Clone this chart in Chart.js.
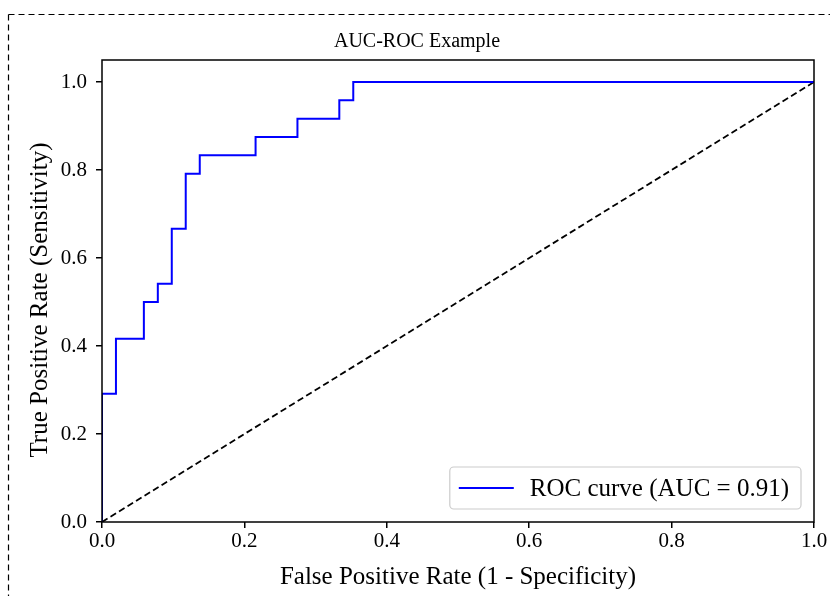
<!DOCTYPE html>
<html>
<head>
<meta charset="utf-8">
<script src="https://cdn.jsdelivr.net/npm/chart.js@4.4.0/dist/chart.umd.min.js"></script>
<style>
  html, body { margin: 0; padding: 0; background: #fff; overflow: hidden; }
  #wrap { position: relative; width: 830px; height: 596px; }
  #frame { position: absolute; left: 0; top: 0; pointer-events: none; }
</style>
</head>
<body>
<div id="wrap">
  <canvas id="c" width="830" height="596"></canvas>
  <svg id="frame" width="830" height="596">
    <line x1="8.5" y1="14.5" x2="830" y2="14.5" stroke="#000" stroke-width="1.2" stroke-dasharray="6,4"/>
    <line x1="8.5" y1="14.5" x2="8.5" y2="596" stroke="#000" stroke-width="1.2" stroke-dasharray="6,4"/>
  </svg>
</div>
<script>
// ---- data ----
const titleText = 'AUC-ROC Example';
const xLabel = 'False Positive Rate (1 - Specificity)';
const yLabel = 'True Positive Rate (Sensitivity)';
const rocLabel = 'ROC curve (AUC = 0.91)';
// ROC curve corner points (false positive rate, true positive rate)
const fpr = [0, 0, 0.0196, 0.0196, 0.0588, 0.0588, 0.0784, 0.0784, 0.098, 0.098, 0.1176, 0.1176, 0.1373, 0.1373, 0.2157, 0.2157, 0.2745, 0.2745, 0.3333, 0.3333, 0.3529, 0.3529, 1.0];
const tpr = [0, 0.2917, 0.2917, 0.4167, 0.4167, 0.5, 0.5, 0.5417, 0.5417, 0.6667, 0.6667, 0.7917, 0.7917, 0.8333, 0.8333, 0.875, 0.875, 0.9167, 0.9167, 0.9583, 0.9583, 1.0, 1.0];
// chance diagonal
const diagX = [0, 1];
const diagY = [0, 1];
const xTicks = [0.0, 0.2, 0.4, 0.6, 0.8, 1.0];
const yTicks = [0.0, 0.2, 0.4, 0.6, 0.8, 1.0];

const FONT = "'Liberation Serif', 'Times New Roman', serif";

const rocPoints = fpr.map((x, i) => ({ x: x, y: tpr[i] }));
const diagPoints = diagX.map((x, i) => ({ x: x, y: diagY[i] }));

const frameBox = {
  id: 'frameBox',
  afterDatasetsDraw(chart) {
    const { ctx, chartArea: a } = chart;
    ctx.save();
    ctx.strokeStyle = '#000';
    ctx.lineWidth = 1.5;
    ctx.strokeRect(a.left, a.top, a.right - a.left, a.bottom - a.top);
    ctx.restore();
  }
};

// y-axis title (drawn slightly below the axis centre, as in the reference)
const yTitle = {
  id: 'yTitle',
  afterDraw(chart) {
    const { ctx, chartArea: a } = chart;
    ctx.save();
    ctx.font = '25px ' + FONT;
    ctx.fillStyle = '#000';
    ctx.textAlign = 'center';
    ctx.textBaseline = 'middle';
    ctx.translate(40, (a.top + a.bottom) / 2 + 9);
    ctx.rotate(-Math.PI / 2);
    ctx.fillText(yLabel, 0, 0);
    ctx.restore();
  }
};

const innerLegend = {
  id: 'innerLegend',
  afterDraw(chart) {
    const { ctx, chartArea: a } = chart;
    const ds = chart.data.datasets[0];
    ctx.save();
    ctx.font = '25px ' + FONT;
    const tw = ctx.measureText(ds.label).width;
    const w = 9 + 55 + 16 + tw + 12;
    const h = 42;
    const x = a.right - 13 - w;
    const y = a.bottom - 13 - h;
    const r = 4;
    ctx.beginPath();
    ctx.moveTo(x + r, y);
    ctx.lineTo(x + w - r, y);
    ctx.arcTo(x + w, y, x + w, y + r, r);
    ctx.lineTo(x + w, y + h - r);
    ctx.arcTo(x + w, y + h, x + w - r, y + h, r);
    ctx.lineTo(x + r, y + h);
    ctx.arcTo(x, y + h, x, y + h - r, r);
    ctx.lineTo(x, y + r);
    ctx.arcTo(x, y, x + r, y, r);
    ctx.closePath();
    ctx.fillStyle = 'rgba(255,255,255,0.8)';
    ctx.fill();
    ctx.strokeStyle = '#cccccc';
    ctx.lineWidth = 1.2;
    ctx.stroke();
    ctx.beginPath();
    ctx.strokeStyle = ds.borderColor;
    ctx.lineWidth = ds.borderWidth;
    ctx.moveTo(x + 9, y + h / 2);
    ctx.lineTo(x + 64, y + h / 2);
    ctx.stroke();
    ctx.fillStyle = '#000';
    ctx.textBaseline = 'middle';
    ctx.fillText(ds.label, x + 80, y + h / 2 + 1);
    ctx.restore();
  }
};

new Chart(document.getElementById('c'), {
  type: 'scatter',
  data: {
    datasets: [
      {
        label: rocLabel,
        data: rocPoints,
        showLine: true,
        borderColor: '#0000ff',
        backgroundColor: '#0000ff',
        borderWidth: 2,
        pointRadius: 0,
        tension: 0
      },
      {
        label: 'chance',
        data: diagPoints,
        showLine: true,
        borderColor: '#000000',
        borderWidth: 1.8,
        borderDash: [6.5, 3.5],
        pointRadius: 0
      }
    ]
  },
  options: {
    responsive: false,
    animation: false,
    layout: { padding: { left: 20, right: 16, top: 30, bottom: 0 } },
    plugins: {
      legend: { display: false },
      tooltip: { enabled: false },
      title: {
        display: true,
        text: titleText,
        color: '#000',
        font: { family: FONT, size: 20, weight: 'normal', lineHeight: 1.2 },
        padding: { top: 0, bottom: 6 }
      }
    },
    scales: {
      x: {
        type: 'linear',
        min: 0, max: 1,
        afterBuildTicks(s) { s.ticks = xTicks.map(v => ({ value: v })); },
        afterFit(s) { s.height = 74; },
        grid: { display: true, drawOnChartArea: false, drawTicks: true, tickLength: 6, color: '#000', lineWidth: 1.5 },
        border: { display: false },
        ticks: {
          color: '#000', padding: 1,
          font: { family: FONT, size: 21 },
          callback: v => Number(v).toFixed(1),
          maxRotation: 0, autoSkip: false
        },
        title: {
          display: true, text: xLabel, color: '#000',
          font: { family: FONT, size: 25, lineHeight: 1.2 },
          padding: { top: 0, bottom: 4 }
        }
      },
      y: {
        type: 'linear',
        min: 0, max: 1.05,
        afterBuildTicks(s) { s.ticks = yTicks.map(v => ({ value: v })); },
        afterFit(s) { s.width = 82; },
        grid: { display: true, drawOnChartArea: false, drawTicks: true, tickLength: 6, color: '#000', lineWidth: 1.5 },
        border: { display: false },
        ticks: {
          color: '#000', padding: 9,
          font: { family: FONT, size: 21 },
          callback: v => Number(v).toFixed(1),
          autoSkip: false
        },
        title: { display: false }
      }
    }
  },
  plugins: [frameBox, yTitle, innerLegend]
});
</script>
</body>
</html>
